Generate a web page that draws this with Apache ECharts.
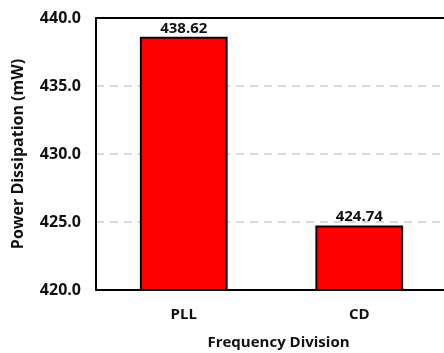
<!DOCTYPE html>
<html>
<head>
<meta charset="utf-8">
<script src="https://cdn.jsdelivr.net/npm/echarts@6/dist/echarts.min.js"></script>
<style>
    html, body { margin: 0; padding: 0; background: #fff; }
    #chart { width: 444px; height: 353px; }
</style>
</head>
<body>
<div id="chart"></div>
<script>
// categories and values
var categories = ['PLL', 'CD'];
var powerValues = [438.62, 424.74];

var font = '"Open Sans", "Noto Sans", sans-serif';

var myChart = echarts.init(document.getElementById('chart'));
var options = {
    animation: false,
    grid: {
        left: 96,
        right: -3,
        top: 18,
        bottom: 63,
        outerBoundsMode: 'none'
    },
    xAxis: [{
        type: 'category',
        data: categories,
        name: 'Frequency Division',
        nameLocation: 'middle',
        nameGap: 45,
        nameTextStyle: { color: '#111', fontSize: 15, fontWeight: 'bold', fontFamily: font, padding: [0, 0, 0, 14] },
        axisLine: { lineStyle: { color: '#000', width: 2 } },
        axisTick: { show: false },
        axisLabel: { color: '#111', fontSize: 15, fontWeight: 'bold', fontFamily: font, margin: 17 }
    }, {
        // top border of the plot box
        type: 'category',
        position: 'top',
        data: categories,
        axisLine: { show: true, lineStyle: { color: '#000', width: 2 } },
        axisTick: { show: false },
        axisLabel: { show: false }
    }],
    yAxis: {
        type: 'value',
        min: 420,
        max: 440,
        interval: 5,
        name: 'Power Dissipation (mW)',
        nameLocation: 'middle',
        nameGap: 70,
        nameTextStyle: { color: '#111', fontSize: 16, fontWeight: 'bold', fontFamily: font },
        axisLine: { show: true, lineStyle: { color: '#000', width: 2 } },
        axisTick: { show: false },
        axisLabel: {
            color: '#111', fontSize: 16, fontWeight: 'bold', fontFamily: font, margin: 15,
            formatter: function (v) { return v.toFixed(1); }
        },
        splitLine: { show: true, lineStyle: { color: '#d9d9d9', width: 2, type: [8, 6] } }
    },
    series: [{
        type: 'bar',
        data: powerValues,
        barWidth: '50%',
        itemStyle: { color: '#ff0000', borderColor: '#000', borderWidth: 2 },
        label: {
            show: true,
            position: 'top',
            distance: 1,
            color: '#111',
            fontSize: 15,
            fontWeight: 'bold',
            fontFamily: font,
            formatter: function (p) { return p.value.toFixed(2); }
        }
    }]
};
myChart.setOption(options);
</script>
</body>
</html>
